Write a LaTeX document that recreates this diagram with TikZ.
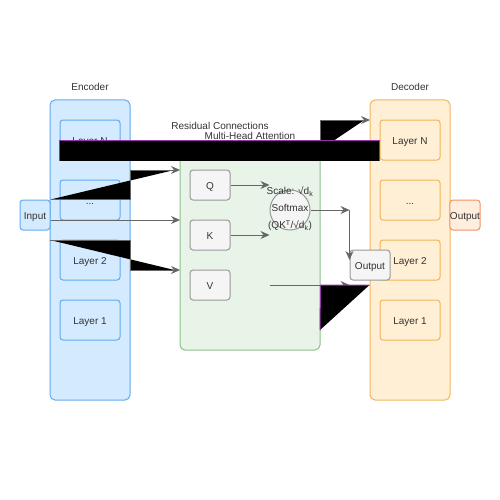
\documentclass[tikz,border=0pt]{standalone}
\usepackage{fontspec}
\setmainfont{Liberation Sans}
\definecolor{encfill}{HTML}{D4EAFE}
\definecolor{encline}{HTML}{62A9F0}
\definecolor{attfill}{HTML}{E7F4E7}
\definecolor{attline}{HTML}{8CBF8C}
\definecolor{decfill}{HTML}{FFEFD5}
\definecolor{decline}{HTML}{F0B65A}
\definecolor{outfill}{HTML}{FFEEDD}
\definecolor{outedge}{HTML}{F09262}
\definecolor{boxfill}{HTML}{F5F5F5}
\definecolor{boxline}{HTML}{999999}
\definecolor{arrgray}{HTML}{666666}
\definecolor{txtgray}{HTML}{333333}
\definecolor{respurple}{HTML}{9933AA}
\usetikzlibrary{arrows.meta, positioning}
\tikzset{basic/.style={draw,rounded corners=3pt,line width=1pt,text=txtgray,font=\fontsize{10}{12}\selectfont,inner sep=0pt,text height=9.5pt,text depth=0pt}}
\tikzset{stack/.style={basic,rounded corners=5pt,minimum width=80pt,minimum height=300pt}}
\tikzset{enclayer/.style={basic,fill=encfill,draw=encline,minimum width=60pt,minimum height=40pt}}
\tikzset{declayer/.style={basic,fill=decfill,draw=decline,minimum width=60pt,minimum height=40pt}}
\tikzset{head/.style={basic,fill=boxfill,draw=boxline,minimum width=40pt,minimum height=30pt}}
\tikzset{caption/.style={text=txtgray,font=\fontsize{10}{12}\selectfont,inner sep=0pt}}
\tikzset{link/.style={draw=arrgray,line width=1pt,-{Stealth[length=9pt,width=8pt,inset=3pt,fill=arrgray]}}}
\tikzset{res/.style={draw=respurple,line width=1pt,fill=black}}

\begin{document}
\begin{tikzpicture}[x=1pt,y=-1pt]
\useasboundingbox (0,0) rectangle (500,500);

% Define encoder
\node[stack,fill=encfill,draw=encline] at (90,250) (enc) {};
\node[caption] at (90,87) (enclabel) {Encoder};
\node[enclayer] at (90,140) (encN) {Layer N};
\node[enclayer] at (90,200) (encdots) {...};
\node[enclayer] at (90,260) (enc2) {Layer 2};
\node[enclayer] at (90,320) (enc1) {Layer 1};
\node[enclayer,minimum width=30pt,minimum height=30pt] at (35,215) (input) {Input};

% Define attention block
\node[stack,fill=attfill,draw=attline,minimum width=140pt,minimum height=200pt] at (250,250) (mha) {};
\node[caption] at (250,136) (mhalabel) {Multi-Head Attention};
\node[head] at (210,185) (q) {Q};
\node[head] at (210,235) (k) {K};
\node[head] at (210,285) (v) {V};
\node[basic,circle,fill=boxfill,draw=boxline,minimum size=40pt] at (290,210) (smax) {};
\node[caption,align=center,font=\fontsize{10}{17}\selectfont] at (290,209) (smaxtext)
  {Scale: √d\textsubscript{k}\\Softmax\\(QK\textsuperscript{T}/√d\textsubscript{k})};

% Define decoder
\node[stack,fill=decfill,draw=decline] at (410,250) (dec) {};
\node[caption] at (410,87) (declabel) {Decoder};
\node[declayer] at (410,140) (decN) {Layer N};
\node[declayer] at (410,200) (decdots) {...};
\node[declayer] at (410,260) (dec2) {Layer 2};
\node[declayer] at (410,320) (dec1) {Layer 1};
\node[basic,fill=outfill,draw=outedge,minimum width=30pt,minimum height=30pt] at (465,215) (output) {Output};
\node[head] at (370,265) (attout) {Output};

% Define connection points
\coordinate (qin) at (180,170);
\coordinate (kin) at (180,220);
\coordinate (vin) at (180,270);
\coordinate (vstart) at (50,240);
\coordinate (decin) at (370,120);
\coordinate (resv) at (320,330);

% Define paths
\path[link,fill=black] (input.north east) -- (input.north east -| enc.east) -- (enc.east |- qin) -- (qin);
\path[link] (input.east |- kin) -- (kin);
\path[link,fill=black] (vstart) -- (vstart -| enc.east) -- (enc.east |- vin) -- (vin);

\path[link] (q.east) -- (q.east -| smax.west);
\path[link] (k.east) -- (k.east -| smax.west);
\path[link] (v.east -| smax.west) -- (v.east -| attout.west);
\path[link] (smax.east) -- (smax.east -| attout.west);
\path[link] (smax.east -| attout.west) -- ([yshift=5pt]attout.west);

\path[link,fill=black] (mha.north east) -- (mha.north east |- decin) -- (decin);
\path[res] (resv) -- (mha.east |- v) -- (dec.west |- v);

% Residual connections
\path[res] (encN.south west) -- (encN.west) -- (decN.west) -- (decN.south west);
\node[caption] at (220,126) (reslabel) {Residual Connections};
\end{tikzpicture}
\end{document}
